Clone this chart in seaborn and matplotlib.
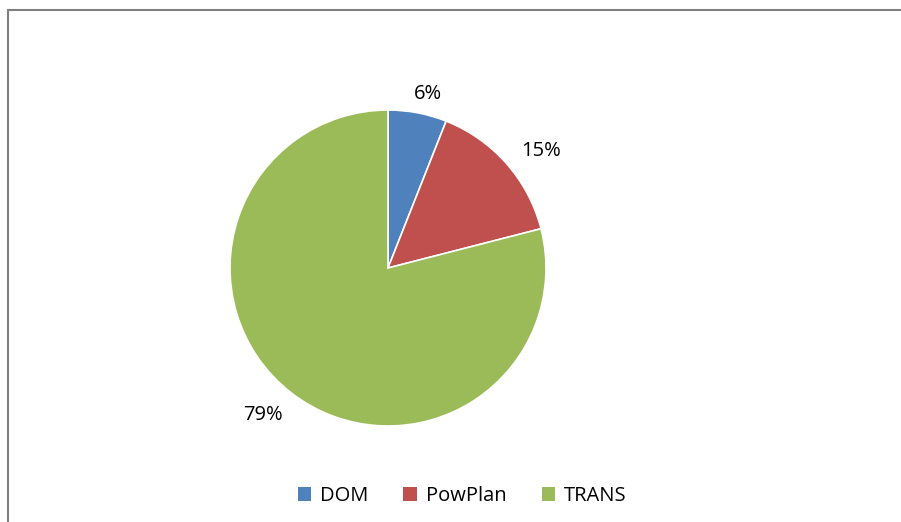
import matplotlib
matplotlib.use("Agg")
import numpy as np
import matplotlib.pyplot as plt
import seaborn as sns
from matplotlib.patches import Rectangle, Patch

# ==================== data ====================
categories = ["DOM", "PowPlan", "TRANS"]
shares = [6, 15, 79]
colors = ["#4F81BD", "#C0504D", "#9BBB59"]
label_dist = [1.13, 1.22, 1.22]
label_shift = [-2.0, -4.0, -2.5]  # degrees, excel nudges the labels a bit

sns.set_style("white")
plt.rcParams['font.family'] = ['Open Sans', 'DejaVu Sans']

W, H = 901, 522
fig = plt.figure(figsize=(W / 100, H / 100), dpi=100)

# frame (only top and left visible in the crop)
fig.add_artist(Rectangle((7.5 / W, -0.05), 1.2, 1 - 9.5 / H + 0.05,
                         transform=fig.transFigure, fill=False,
                         edgecolor="#7f7f7f", linewidth=1.5))

cx, cy, r = 388, 268, 158
ax = fig.add_axes([(cx - r) / W, (H - cy - r) / H, 2 * r / W, 2 * r / H])
wedges, texts, autotexts = ax.pie(
    shares, colors=colors, startangle=90, counterclock=False,
    autopct=lambda p: f"{p:.0f}%", pctdistance=1.2,
    wedgeprops=dict(edgecolor="white", linewidth=1.2),
    textprops=dict(fontsize=14.5, color="black"),
)
for w, t, d, s in zip(wedges, autotexts, label_dist, label_shift):
    ang = np.deg2rad((w.theta1 + w.theta2) / 2 + s)
    t.set_position((d * np.cos(ang), d * np.sin(ang)))
    t.set_clip_on(False)
ax.set_xlim(-1, 1)
ax.set_ylim(-1, 1)
ax.set_aspect("equal")
ax.axis("off")
for w in wedges:
    w.set_clip_on(False)

handles = [Patch(facecolor=c, edgecolor="none", label=l) for c, l in zip(colors, categories)]
fig.legend(handles=handles, loc="center", bbox_to_anchor=(462 / W, 1 - 496 / H),
           ncol=3, frameon=False, fontsize=14.5, handlelength=0.65, handleheight=0.65,
           handletextpad=0.45, columnspacing=1.75, labelcolor="black")

fig.savefig("out.png", dpi=100)
